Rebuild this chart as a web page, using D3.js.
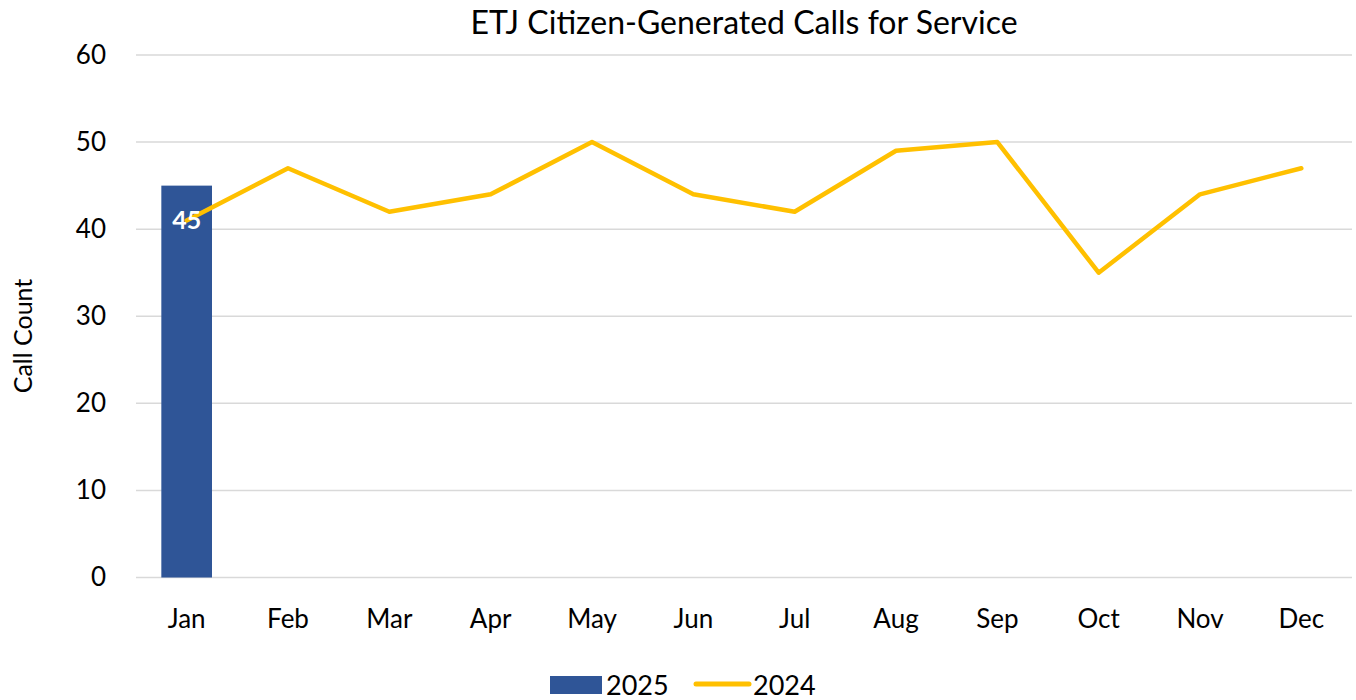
<!DOCTYPE html>
<html>
<head>
<meta charset="utf-8">
<script src="https://cdn.jsdelivr.net/npm/d3@7"></script>
<style>
  body { margin: 0; background: #fff; }
  text { font-family: Lato, "Open Sans", sans-serif; fill: #000; }
</style>
</head>
<body>
<div id="container"></div>
<script>
const WIDTH = 1356;
const HEIGHT = 700;

const months = ["Jan", "Feb", "Mar", "Apr", "May", "Jun", "Jul", "Aug", "Sep", "Oct", "Nov", "Dec"];
const values2025 = [45];
const values2024 = [41, 47, 42, 44, 50, 44, 42, 49, 50, 35, 44, 47];
const yTicks = [0, 10, 20, 30, 40, 50, 60];

const PLOT_LEFT = 136;
const PLOT_RIGHT = 1352;
const PLOT_TOP = 55;
const PLOT_BOTTOM = 577.5;

var translate = function (x, y) {
    return "translate(" + x + "," + y + ")";
};

var svg = d3.select("#container")
    .append("svg")
    .attr("width", WIDTH)
    .attr("height", HEIGHT);

var xScale = d3.scaleBand().domain(months).range([PLOT_LEFT, PLOT_RIGHT]).paddingInner(0).paddingOuter(0);
var yScale = d3.scaleLinear().domain([0, 60]).range([PLOT_BOTTOM, PLOT_TOP]);

// gridlines
svg.append("g").selectAll("line").data(yTicks)
    .enter().append("line")
    .attr("x1", PLOT_LEFT).attr("x2", PLOT_RIGHT)
    .attr("y1", function (d) { return yScale(d); })
    .attr("y2", function (d) { return yScale(d); })
    .attr("stroke", "#d9d9d9")
    .attr("stroke-width", 1.5);

// y axis labels
var yAxis = d3.axisLeft(yScale).tickValues(yTicks).tickSize(0).tickPadding(0);
var yg = svg.append("g").attr("transform", translate(106, 0)).call(yAxis);
yg.select(".domain").remove();
yg.selectAll("text").style("font-size", "26px").attr("fill", "#000");

// x axis labels
var xAxis = d3.axisBottom(xScale).tickSize(0).tickPadding(0);
var xg = svg.append("g").attr("transform", translate(0, 610)).call(xAxis);
xg.select(".domain").remove();
xg.selectAll("text").style("font-size", "26px").attr("fill", "#000").attr("dy", "0.71em").attr("y", 0);

// bars 2025
var barW = xScale.bandwidth() * 0.5;
svg.append("g").selectAll("rect").data(values2025)
    .enter().append("rect")
    .attr("x", function (d, i) { return xScale(months[i]) + (xScale.bandwidth() - barW) / 2; })
    .attr("y", function (d) { return yScale(d); })
    .attr("width", barW)
    .attr("height", function (d) { return PLOT_BOTTOM - yScale(d); })
    .attr("fill", "#2f5597");

// line 2024
var line = d3.line()
    .x(function (d, i) { return xScale(months[i]) + xScale.bandwidth() / 2; })
    .y(function (d) { return yScale(d); });

svg.append("path")
    .attr("d", line(values2024))
    .attr("fill", "none")
    .attr("stroke", "#ffc000")
    .attr("stroke-width", 4.5)
    .attr("stroke-linejoin", "round")
    .attr("stroke-linecap", "round");

// bar labels
svg.append("g").selectAll("text").data(values2025)
    .enter().append("text")
    .attr("x", function (d, i) { return xScale(months[i]) + xScale.bandwidth() / 2; })
    .attr("y", function (d) { return yScale(d) + 43; })
    .attr("text-anchor", "middle")
    .style("font-size", "25px")
    .style("font-weight", "bold")
    .style("fill", "#fff")
    .text(function (d) { return d; });

// title
svg.append("text")
    .attr("x", 744).attr("y", 34)
    .attr("text-anchor", "middle")
    .style("font-size", "32px")
    .text("ETJ Citizen-Generated Calls for Service");

// y axis title
svg.append("text")
    .attr("transform", translate(32, 336) + " rotate(-90)")
    .attr("text-anchor", "middle")
    .style("font-size", "25px")
    .text("Call Count");

// legend
var legend = svg.append("g");
legend.append("rect").attr("x", 550).attr("y", 676).attr("width", 52).attr("height", 18).attr("fill", "#2f5597");
legend.append("text").attr("x", 606).attr("y", 695).style("font-size", "27px").text("2025");
legend.append("line").attr("x1", 696).attr("x2", 749).attr("y1", 684).attr("y2", 684)
    .attr("stroke", "#ffc000").attr("stroke-width", 5).attr("stroke-linecap", "round");
legend.append("text").attr("x", 753).attr("y", 695).style("font-size", "27px").text("2024");
</script>
</body>
</html>
